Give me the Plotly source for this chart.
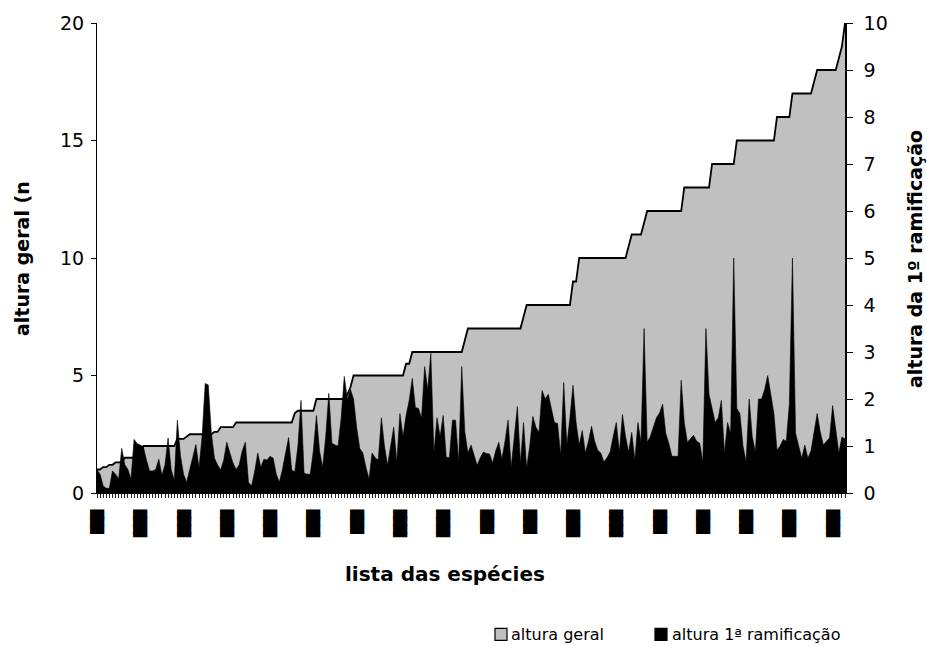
import plotly.graph_objects as go

# ---- data ----
altura_geral = [
    1.0, 1.0, 1.1, 1.1, 1.2, 1.2, 1.3, 1.3, 1.3, 1.5,
    1.5, 1.5, 1.5, 1.5, 1.5, 2.0, 2.0, 2.0, 2.0, 2.0,
    2.0, 2.0, 2.0, 2.0, 2.0, 2.0, 2.3, 2.3, 2.3, 2.4,
    2.5, 2.5, 2.5, 2.5, 2.5, 2.5, 2.5, 2.5, 2.6, 2.6,
    2.8, 2.8, 2.8, 2.8, 2.8, 3.0, 3.0, 3.0, 3.0, 3.0,
    3.0, 3.0, 3.0, 3.0, 3.0, 3.0, 3.0, 3.0, 3.0, 3.0,
    3.0, 3.0, 3.0, 3.0, 3.4, 3.5, 3.5, 3.5, 3.5, 3.5,
    3.5, 4.0, 4.0, 4.0, 4.0, 4.0, 4.0, 4.0, 4.0, 4.0,
    4.0, 4.2, 4.5, 5.0, 5.0, 5.0, 5.0, 5.0, 5.0, 5.0,
    5.0, 5.0, 5.0, 5.0, 5.0, 5.0, 5.0, 5.0, 5.0, 5.0,
    5.5, 5.5, 6.0, 6.0, 6.0, 6.0, 6.0, 6.0, 6.0, 6.0,
    6.0, 6.0, 6.0, 6.0, 6.0, 6.0, 6.0, 6.0, 6.0, 6.5,
    7.0, 7.0, 7.0, 7.0, 7.0, 7.0, 7.0, 7.0, 7.0, 7.0,
    7.0, 7.0, 7.0, 7.0, 7.0, 7.0, 7.0, 7.0, 7.5, 8.0,
    8.0, 8.0, 8.0, 8.0, 8.0, 8.0, 8.0, 8.0, 8.0, 8.0,
    8.0, 8.0, 8.0, 8.0, 9.0, 9.0, 10.0, 10.0, 10.0, 10.0,
    10.0, 10.0, 10.0, 10.0, 10.0, 10.0, 10.0, 10.0, 10.0, 10.0,
    10.0, 10.0, 10.5, 11.0, 11.0, 11.0, 11.0, 11.5, 12.0, 12.0,
    12.0, 12.0, 12.0, 12.0, 12.0, 12.0, 12.0, 12.0, 12.0, 12.0,
    13.0, 13.0, 13.0, 13.0, 13.0, 13.0, 13.0, 13.0, 13.0, 14.0,
    14.0, 14.0, 14.0, 14.0, 14.0, 14.0, 14.0, 15.0, 15.0, 15.0,
    15.0, 15.0, 15.0, 15.0, 15.0, 15.0, 15.0, 15.0, 15.0, 15.0,
    16.0, 16.0, 16.0, 16.0, 16.0, 17.0, 17.0, 17.0, 17.0, 17.0,
    17.0, 17.0, 17.5, 18.0, 18.0, 18.0, 18.0, 18.0, 18.0, 18.0,
    18.5, 19.0, 20.0,
]

altura_ramificacao = [
    0.49, 0.40, 0.15, 0.10, 0.10, 0.47, 0.40, 0.30, 0.95, 0.60,
    0.50, 0.30, 1.14, 1.05, 1.02, 0.98, 0.70, 0.47, 0.47, 0.50,
    0.72, 0.38, 0.60, 1.17, 0.50, 0.27, 1.55, 0.80, 0.40, 0.23,
    0.50, 0.80, 1.03, 0.53, 1.20, 2.33, 2.30, 1.27, 0.74, 0.60,
    0.49, 0.70, 1.08, 0.85, 0.64, 0.50, 0.60, 0.90, 1.08, 0.23,
    0.15, 0.45, 0.85, 0.55, 0.72, 0.70, 0.78, 0.74, 0.40, 0.23,
    0.50, 0.85, 1.18, 0.49, 0.45, 1.00, 1.97, 0.42, 0.40, 0.40,
    0.90, 1.65, 0.90, 0.55, 1.20, 2.12, 1.06, 1.02, 1.00, 1.60,
    2.48, 2.00, 2.20, 2.00, 1.40, 0.95, 0.85, 0.55, 0.30, 0.85,
    0.75, 0.70, 1.60, 1.00, 0.59, 1.00, 1.40, 0.66, 1.69, 1.20,
    1.65, 1.97, 2.44, 1.82, 1.80, 1.60, 2.69, 2.20, 2.97, 0.85,
    1.60, 1.20, 1.65, 0.76, 0.75, 1.55, 1.55, 0.66, 2.69, 1.30,
    0.85, 1.02, 0.80, 0.59, 0.75, 0.87, 0.84, 0.83, 0.64, 0.90,
    1.08, 0.72, 1.10, 1.55, 0.55, 1.20, 1.84, 0.64, 1.50, 0.53,
    1.00, 1.63, 1.40, 1.29, 2.18, 2.00, 2.10, 1.80, 1.50, 1.48,
    0.80, 2.35, 1.02, 1.60, 2.29, 1.50, 1.02, 1.33, 0.85, 1.10,
    1.42, 1.10, 0.91, 0.85, 0.66, 0.75, 0.87, 1.20, 1.50, 0.87,
    1.67, 1.20, 0.87, 1.29, 0.70, 1.50, 1.08, 3.50, 1.08, 1.20,
    1.40, 1.60, 1.70, 1.89, 1.27, 1.06, 0.78, 0.78, 0.78, 2.40,
    1.50, 1.08, 1.15, 1.23, 1.10, 1.06, 0.66, 3.50, 2.10, 1.80,
    1.50, 1.60, 1.97, 0.85, 1.50, 1.27, 5.00, 1.80, 1.69, 1.00,
    0.66, 2.00, 1.20, 0.87, 2.00, 2.00, 2.20, 2.50, 2.10, 1.69,
    0.91, 1.00, 1.14, 1.10, 1.90, 5.00, 1.27, 1.00, 0.74, 1.02,
    0.74, 0.90, 1.30, 1.69, 1.30, 1.02, 1.10, 1.17, 1.86, 1.30,
    0.85, 1.19, 1.15,
]

especies = list(range(1, len(altura_geral) + 1))

# the species names print as solid black blocks in the reference
# (vertical text): one every 14 species, short ("c") or long ("l")
label_step = 14
label_kind = ["c", "l", "l", "l", "l", "l", "c", "l", "l",
              "c", "c", "l", "l", "c", "c", "c", "l", "l"]
BLOCK = {"c": "███", "l": "███▌"}
rotulos_especies = []
for i in range(len(especies)):
    if i % label_step == 0:
        rotulos_especies.append(BLOCK[label_kind[i // label_step]])
    else:
        rotulos_especies.append("")

y_left_ticks = [0, 5, 10, 15, 20]
y_right_ticks = list(range(0, 11))

series_names = ["altura geral", "altura 1ª ramificação"]
FONT = "DejaVu Sans"

fig = go.Figure()
fig.add_trace(go.Scatter(
    x=especies, y=altura_geral, name=series_names[0], mode="lines",
    fill="tozeroy", fillcolor="#c0c0c0",
    line=dict(color="black", width=1.8), showlegend=False, yaxis="y",
))
fig.add_trace(go.Scatter(
    x=especies, y=altura_ramificacao, name=series_names[1], mode="lines",
    fill="tozeroy", fillcolor="black",
    line=dict(color="black", width=0.6), showlegend=False, yaxis="y2",
))

L, R, T, B = 97, 82, 21, 153
W, H = 927, 646
pw, ph = W - L - R, H - T - B


def px(xp):
    return (xp - L) / pw


def py(yp):
    return (H - B - yp) / ph


fig.update_layout(
    width=W, height=H,
    margin=dict(l=L, r=R, t=T, b=B, pad=0),
    paper_bgcolor="white", plot_bgcolor="white",
    font=dict(family=FONT, color="black"),
    xaxis=dict(
        range=[especies[0], especies[-1]], tickmode="array",
        tickvals=especies, ticktext=rotulos_especies, tickangle=90,
        ticks="outside", ticklen=4, tickwidth=1, tickcolor="#222222",
        tickfont=dict(size=12, family=FONT, color="black"),
        ticklabelstandoff=9,
        showline=True, linecolor="black", linewidth=1,
        showgrid=False, zeroline=False,
    ),
    yaxis=dict(
        range=[0, 20], tickmode="array", tickvals=y_left_ticks,
        ticks="outside", ticklen=5, tickwidth=1, tickcolor="black",
        tickfont=dict(size=19, family=FONT), ticklabelstandoff=3,
        showline=True, linecolor="black", linewidth=1,
        showgrid=False, zeroline=False,
    ),
    yaxis2=dict(
        range=[0, 10], tickmode="array", tickvals=y_right_ticks,
        overlaying="y", side="right",
        ticks="outside", ticklen=6, tickwidth=1, tickcolor="black",
        tickfont=dict(size=19, family=FONT), ticklabelstandoff=7,
        showline=True, linecolor="black", linewidth=1.5,
        showgrid=False, zeroline=False,
    ),
)

annotations = [
    dict(text="<b>altura geral (n</b>", x=px(22), y=py(258), textangle=-90,
         font=dict(size=19, family=FONT)),
    dict(text="<b>altura da 1º ramificação</b>", x=px(915), y=py(258),
         textangle=-90, font=dict(size=19, family=FONT)),
    dict(text="<b>lista das espécies</b>", x=px(445), y=py(574),
         font=dict(size=20, family=FONT)),
    dict(text=series_names[0], x=px(509), y=py(635), xanchor="left",
         font=dict(size=16, family=FONT)),
    dict(text=series_names[1], x=px(670), y=py(635), xanchor="left",
         font=dict(size=16, family=FONT)),
]
for a in annotations:
    a.setdefault("xanchor", "center")
    a.update(xref="paper", yref="paper", yanchor="middle", showarrow=False)
fig.update_layout(annotations=annotations)

fig.update_layout(shapes=[
    dict(type="rect", xref="paper", yref="paper",
         x0=px(495), x1=px(507), y0=py(641), y1=py(629),
         fillcolor="#c0c0c0", line=dict(color="black", width=1.2)),
    dict(type="rect", xref="paper", yref="paper",
         x0=px(655), x1=px(667), y0=py(641), y1=py(629),
         fillcolor="black", line=dict(color="black", width=1.2)),
])

# overlap the block glyphs slightly so the vertical labels print solid
post = (
    "document.body.style.margin='0';"
    "document.body.style.overflow='hidden';"
    "document.querySelectorAll('.xtick text').forEach(function(t){"
    "t.style.letterSpacing='-1.5px';});"
)
fig.write_html("out.html", config={"displayModeBar": False}, post_script=post)
